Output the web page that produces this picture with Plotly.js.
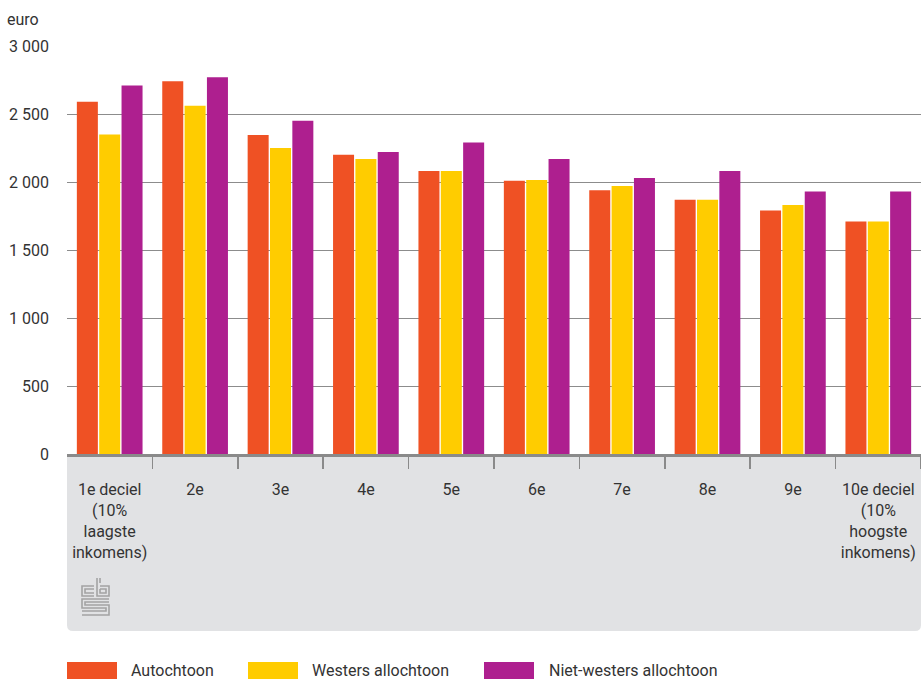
<!DOCTYPE html>
<html>
<head>
<meta charset="utf-8">
<script src="https://cdn.plot.ly/plotly-3.0.1.min.js"></script>
<style>
  html, body { margin: 0; padding: 0; background: #ffffff; }
  #chart { width: 921px; height: 680px; }
</style>
</head>
<body>
<div id="chart"></div>
<script>
// Besteedbaar inkomen per decielgroep, naar herkomst (euro)
const deciles = [
  "1e deciel<br>(10%<br>laagste<br>inkomens)",
  "2e", "3e", "4e", "5e", "6e", "7e", "8e", "9e",
  "10e deciel<br>(10%<br>hoogste<br>inkomens)"
];
const seriesNames = ["Autochtoon", "Westers allochtoon", "Niet-westers allochtoon"];
const autochtoon  = [2590, 2740, 2345, 2200, 2080, 2010, 1940, 1870, 1790, 1710];
const westers     = [2350, 2560, 2250, 2170, 2080, 2015, 1970, 1870, 1830, 1710];
const nietWesters = [2710, 2770, 2450, 2220, 2290, 2170, 2030, 2080, 1930, 1930];
const yTicks = [0, 500, 1000, 1500, 2000, 2500, 3000];
const unitLabel = "euro";

const colors = ["#ef5124", "#ffcc00", "#ae1f8f"];
const values = [autochtoon, westers, nietWesters];

// plot area in pixels
const W = 921, H = 680;
const L = 67, R = 921, T = 46, B = 454;
const px = x => (x - L) / (R - L);
const py = y => (B - y) / (B - T);

const traces = values.map((v, i) => ({
  type: "bar",
  name: seriesNames[i],
  x: deciles,
  y: v,
  marker: { color: colors[i], line: { width: 0 } },
  hoverinfo: "x+y+name",
  showlegend: false
}));

const font = { family: "Roboto, 'Liberation Sans', sans-serif", size: 16, color: "#333333" };
const panelColor = "#e1e2e4";

const shapes = [];
const annotations = [];

// grey panel under the category axis, rounded bottom corners
const bx0 = px(67), bx1 = px(921), by0 = py(454), by1 = py(631);
const rx = 6 / (R - L), ry = 6 / (B - T);
shapes.push({
  type: "path", xref: "paper", yref: "paper", layer: "below",
  path: `M${bx0},${by0} L${bx1},${by0} L${bx1},${by1 + ry} Q${bx1},${by1} ${bx1 - rx},${by1} ` +
        `L${bx0 + rx},${by1} Q${bx0},${by1} ${bx0},${by1 + ry} Z`,
  fillcolor: panelColor, line: { width: 0 }
});

// hide the outermost boundary tick on the left edge of the panel
shapes.push({
  type: "rect", xref: "paper", yref: "paper", layer: "above",
  x0: px(64), x1: px(67), y0: py(457), y1: py(470),
  fillcolor: "#ffffff", line: { width: 0 }
});
shapes.push({
  type: "rect", xref: "paper", yref: "paper", layer: "above",
  x0: px(67), x1: px(69), y0: py(457), y1: py(470),
  fillcolor: panelColor, line: { width: 0 }
});

// logo mark in the panel
const lx = 82, ly = 578;
const logoPaths = [
  [[12,8],[0,8],[0,18],[12,18]],
  [[12,11],[3,11],[3,15],[12,15]],
  [[15,0],[15,18],[27,18],[27,8],[18,8]],
  [[18,0],[18,5]],
  [[18,11],[24,11],[24,15],[18,15],[18,11]],
  [[27,21],[0,21],[0,30],[24,30],[24,33],[0,33]],
  [[27,24],[3,24],[3,27],[27,27],[27,37],[0,37]]
];
logoPaths.forEach(pts => {
  shapes.push({
    type: "path", xref: "paper", yref: "paper", layer: "below",
    path: pts.map((p, k) => (k ? "L" : "M") + px(lx + p[0]) + "," + py(ly + p[1])).join(" "),
    line: { color: "#a3a3a3", width: 1.6 }
  });
});

// legend
const legendItems = [
  { x: 67, tx: 129 },
  { x: 248, tx: 310 },
  { x: 484, tx: 547 }
];
legendItems.forEach((it, i) => {
  shapes.push({
    type: "rect", xref: "paper", yref: "paper",
    x0: px(it.x), x1: px(it.x + 50), y0: py(662), y1: py(679),
    fillcolor: colors[i], line: { width: 0 }
  });
  annotations.push({
    xref: "paper", yref: "paper", x: px(it.tx), y: py(670.5),
    xanchor: "left", yanchor: "middle", showarrow: false,
    text: seriesNames[i], font: font
  });
});

// unit label above the value axis
annotations.push({
  xref: "paper", yref: "paper", x: px(5), y: py(19),
  xanchor: "left", yanchor: "middle", showarrow: false,
  text: unitLabel, font: font
});

const layout = {
  width: W, height: H,
  margin: { l: L, r: W - R, t: T, b: H - B, pad: 0 },
  paper_bgcolor: "#ffffff", plot_bgcolor: "#ffffff",
  separators: ", ",
  barmode: "group",
  bargap: 0.215,
  bargroupgap: 0.06,
  font: font,
  showlegend: false,
  xaxis: {
    type: "category",
    tickson: "boundaries",
    ticks: "outside", ticklen: 12, tickwidth: 1.5, tickcolor: "#8a8a8a",
    showline: true, linecolor: "#8a8a8a", linewidth: 3,
    showgrid: false, zeroline: false,
    ticklabelstandoff: 19,
    tickfont: font,
    fixedrange: true
  },
  yaxis: {
    range: [0, 3000],
    tickmode: "array", tickvals: yTicks,
    tickformat: ",d",
    showgrid: true, gridcolor: "#8c8c8c", gridwidth: 1,
    zeroline: false, showline: false, ticks: "",
    ticklabelstandoff: 17,
    tickfont: font,
    fixedrange: true
  },
  shapes: shapes,
  annotations: annotations
};

Plotly.newPlot("chart", traces, layout, { displayModeBar: false, staticPlot: true });
</script>
</body>
</html>
